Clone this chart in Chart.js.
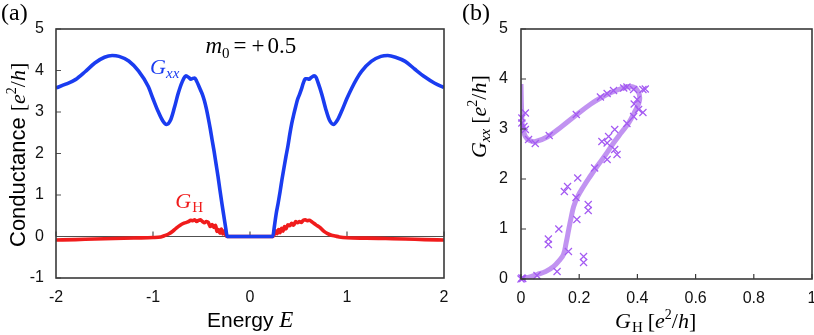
<!DOCTYPE html>
<html><head><meta charset="utf-8">
<script src="https://cdn.jsdelivr.net/npm/chart.js@4/dist/chart.umd.min.js"></script>
<style>
html,body{margin:0;padding:0;background:#fff;overflow:hidden;width:814px;height:335px;}
#wa{position:absolute;left:0;top:0;width:460px;height:335px;}
#wb{position:absolute;left:460px;top:0;width:354px;height:335px;}
</style></head><body>
<div id="wa"><canvas id="ca" width="460" height="335"></canvas></div>
<div id="wb"><canvas id="cb" width="354" height="335"></canvas></div>
<script>
// ---------- Panel (a) data ----------
const energyXX = [-2.00,-1.90,-1.80,-1.70,-1.60,-1.50,-1.42,-1.35,-1.25,-1.15,-1.05,-1.00,-0.95,-0.90,-0.86,-0.82,-0.78,-0.74,-0.70,-0.66,-0.63,-0.61,-0.59,-0.57,-0.55,-0.53,-0.51,-0.49,-0.47,-0.45,-0.43,-0.41,-0.39,-0.37,-0.35,-0.33,-0.31,-0.29,-0.27,-0.25,-0.235,
  0.235,0.25,0.27,0.29,0.31,0.33,0.35,0.37,0.39,0.41,0.43,0.45,0.47,0.49,0.51,0.53,0.55,0.57,0.59,0.61,0.63,0.66,0.68,0.70,0.74,0.78,0.82,0.86,0.90,0.95,1.00,1.05,1.10,1.15,1.25,1.35,1.42,1.50,1.60,1.70,1.80,1.90,2.00];
const gxx = [3.58,3.67,3.78,3.97,4.18,4.32,4.36,4.34,4.23,3.99,3.62,3.32,3.03,2.79,2.70,2.80,3.10,3.45,3.72,3.87,3.83,3.79,3.81,3.82,3.74,3.64,3.53,3.42,3.27,3.08,2.85,2.60,2.32,2.05,1.75,1.45,1.12,0.80,0.50,0.20,0.00,
  0.00,0.22,0.55,0.80,1.08,1.38,1.65,1.92,2.17,2.46,2.72,2.93,3.12,3.30,3.42,3.55,3.70,3.80,3.80,3.79,3.83,3.87,3.84,3.72,3.43,3.08,2.80,2.70,2.80,3.05,3.33,3.58,3.80,3.98,4.22,4.34,4.36,4.32,4.22,4.03,3.85,3.70,3.59];
const energyH = [-2.00,-1.80,-1.60,-1.40,-1.20,-1.00,-0.92,-0.88,-0.84,-0.80,-0.76,-0.72,-0.68,-0.64,-0.61,-0.59,-0.57,-0.55,-0.53,-0.51,-0.49,-0.47,-0.45,-0.43,-0.41,-0.39,-0.37,-0.355,-0.34,-0.325,-0.31,-0.295,-0.28,-0.265,-0.25,-0.235,
  0.235,0.25,0.265,0.28,0.295,0.31,0.325,0.34,0.355,0.37,0.39,0.41,0.43,0.45,0.47,0.49,0.51,0.53,0.55,0.57,0.59,0.61,0.64,0.68,0.72,0.76,0.80,0.84,0.88,0.92,1.00,1.20,1.40,1.60,1.80,2.00];
const gh = [-0.085,-0.075,-0.06,-0.05,-0.035,-0.025,-0.01,0.02,0.06,0.12,0.20,0.27,0.32,0.35,0.39,0.38,0.40,0.36,0.39,0.40,0.36,0.33,0.36,0.34,0.24,0.29,0.22,0.27,0.12,0.17,0.08,0.18,0.06,0.14,0.04,0.00,
  0.00,0.05,0.14,0.07,0.17,0.09,0.20,0.13,0.24,0.18,0.28,0.26,0.32,0.27,0.36,0.33,0.36,0.34,0.39,0.40,0.38,0.39,0.35,0.28,0.22,0.13,0.07,0.03,0.01,-0.01,-0.03,-0.04,-0.05,-0.06,-0.075,-0.085];
const xTicksA = [-2,-1,0,1,2];
const yTicksA = [-1,0,1,2,3,4,5];

// ---------- Panel (b) data ----------
const bLineGH  = [0.000,0.002,0.005,0.015,0.030,0.050,0.090,0.140,0.192,0.240,0.273,0.310,0.345,0.370,0.390,0.403,0.408,0.404,0.395,0.370,0.345,0.318,0.290,0.261,0.235,0.215,0.195,0.181,0.172,0.164,0.155,0.146,0.130,0.112,0.085,0.055,0.025,0.000];
const bLineGxx = [3.90,3.40,3.05,2.85,2.77,2.75,2.84,3.05,3.29,3.50,3.62,3.73,3.81,3.85,3.83,3.75,3.62,3.50,3.39,3.12,2.93,2.72,2.48,2.25,2.03,1.85,1.65,1.45,1.22,0.99,0.72,0.49,0.36,0.25,0.15,0.09,0.03,0.00];
const bMarkGH  = [0.000,0.003,0.006,0.055,0.124,0.130,0.094,0.094,0.163,0.215,0.215,0.192,0.189,0.149,0.160,0.195,0.231,0.231,0.253,0.296,0.322,0.330,0.278,0.296,0.301,0.322,0.364,0.387,0.404,0.419,0.389,0.399,0.419,0.427,0.387,0.364,0.353,0.318,0.296,0.273,0.190,0.097,0.049,0.026,0.015,0.003,0.003,0.015,0.010];
const bMarkGxx = [0.00,0.02,0.01,0.07,0.15,1.00,0.80,0.69,0.55,0.45,0.33,1.19,1.63,1.75,1.85,2.02,1.49,1.37,2.22,2.39,2.59,2.49,2.75,2.72,2.85,2.99,3.11,3.25,3.39,3.33,3.50,3.59,3.79,3.80,3.79,3.84,3.82,3.77,3.71,3.64,3.29,2.87,2.71,2.79,2.99,3.12,3.22,3.32,3.05];
const xTicksB = [0,0.2,0.4,0.6,0.8,1];
const xTickLabelsB = ['0','0.2','0.4','0.6','0.8','1'];
const yTicksB = [0,1,2,3,4,5];

// ---------- style ----------
const SERIF = '"Liberation Serif","Times New Roman",serif';
const SANS = '"Liberation Sans",Arial,Helvetica,sans-serif';
const BLUE = '#1a3cf0';
const RED = '#f01c1c';
const FRAME = '#3a3a3a';

function rich(ctx, x, y, parts, rot) {
  ctx.save();
  ctx.translate(x, y);
  if (rot) ctx.rotate(rot);
  ctx.textAlign = 'left';
  ctx.textBaseline = 'alphabetic';
  let cx = 0;
  for (const p of parts) {
    ctx.font = p.f;
    ctx.fillStyle = p.c || '#000';
    ctx.fillText(p.t, cx, p.dy || 0);
    cx += ctx.measureText(p.t).width + (p.sp || 0);
  }
  ctx.restore();
}
const pairs = (xs, ys) => xs.map((v, i) => ({x: v, y: ys[i]}));
const noPad = s => { s.paddingLeft = 0; s.paddingRight = 0; };

// ---------- Panel (a) ----------
const plugA = {
  id: 'plugA',
  beforeDatasetsDraw(chart) {
    const {ctx, chartArea: a, scales: {x, y}} = chart;
    ctx.save();
    ctx.strokeStyle = '#505050';
    ctx.lineWidth = 1.2;
    const y0 = y.getPixelForValue(0);
    ctx.beginPath();
    ctx.moveTo(a.left, y0); ctx.lineTo(a.right, y0);
    xTicksA.forEach(v => { const px = x.getPixelForValue(v); ctx.moveTo(px, y0); ctx.lineTo(px, y0 - 5); });
    yTicksA.forEach(v => { const py = y.getPixelForValue(v); ctx.moveTo(a.left, py); ctx.lineTo(a.left + 5, py); });
    ctx.stroke();
    ctx.restore();
  },
  afterDraw(chart) {
    const {ctx, chartArea: a, scales: {x, y}} = chart;
    ctx.save();
    ctx.strokeStyle = FRAME; ctx.lineWidth = 1.6;
    ctx.strokeRect(a.left, a.top, a.right - a.left, a.bottom - a.top);
    ctx.restore();
    rich(ctx, 1, 20, [{t: '(a)', f: '24px ' + SERIF}]);
    rich(ctx, x.getPixelForValue(-0.46), y.getPixelForValue(4.42), [
      {t: 'm', f: 'italic 23px ' + SERIF},
      {t: '0', f: '15px ' + SERIF, dy: 5, sp: 4},
      {t: '=', f: '23px ' + SERIF, sp: 5},
      {t: '+', f: '23px ' + SERIF, sp: 3},
      {t: '0.5', f: '23px ' + SERIF}
    ]);
    rich(ctx, x.getPixelForValue(-1.03), y.getPixelForValue(3.92), [
      {t: 'G', f: 'italic 22px ' + SERIF, c: BLUE},
      {t: 'xx', f: 'italic 15px ' + SERIF, c: BLUE, dy: 4}
    ]);
    rich(ctx, x.getPixelForValue(-0.77), y.getPixelForValue(0.69), [
      {t: 'G', f: 'italic 22px ' + SERIF, c: RED, sp: 1},
      {t: 'H', f: '15px ' + SERIF, c: RED, dy: 4}
    ]);
    rich(ctx, 25, 247, [
      {t: 'Conductance ', f: '22px ' + SANS},
      {t: '[', f: '22px ' + SERIF},
      {t: 'e', f: 'italic 22px ' + SERIF},
      {t: '2', f: '14px ' + SERIF, dy: -9},
      {t: '/', f: '22px ' + SERIF},
      {t: 'h', f: 'italic 22px ' + SERIF},
      {t: ']', f: '22px ' + SERIF}
    ], -Math.PI / 2);
    rich(ctx, 207, 327, [
      {t: 'Energy ', f: '21px ' + SANS},
      {t: 'E', f: 'italic 23px ' + SERIF}
    ]);
  }
};

new Chart(document.getElementById('ca'), {
  type: 'scatter',
  data: {
    datasets: [
      {data: pairs(energyXX, gxx), showLine: true, borderColor: BLUE, borderWidth: 3.6, pointRadius: 0, cubicInterpolationMode: 'monotone', order: 0},
      {data: pairs(energyH, gh), showLine: true, borderColor: RED, borderWidth: 3.6, pointRadius: 0, cubicInterpolationMode: 'monotone', order: 1}
    ]
  },
  options: {
    responsive: false, animation: false, devicePixelRatio: 1,
    layout: {padding: {left: 0, right: 16, top: 29, bottom: 0}, autoPadding: false},
    plugins: {legend: {display: false}, tooltip: {enabled: false}},
    scales: {
      x: {
        type: 'linear', min: -2, max: 2,
        afterBuildTicks: s => { s.ticks = xTicksA.map(v => ({value: v})); },
        ticks: {font: {family: SANS, size: 16}, color: '#111', padding: 10, maxRotation: 0},
        grid: {display: false, drawTicks: false}, border: {display: false},
        afterFit: s => { s.height = 57; noPad(s); }
      },
      y: {
        type: 'linear', min: -1, max: 5,
        afterBuildTicks: s => { s.ticks = yTicksA.map(v => ({value: v})); },
        ticks: {font: {family: SANS, size: 16}, color: '#111', padding: 12},
        grid: {display: false, drawTicks: false}, border: {display: false},
        afterFit: s => { s.width = 56; s.paddingTop = 0; s.paddingBottom = 0; }
      }
    }
  },
  plugins: [plugA]
});

// ---------- Panel (b) ----------
const plugB = {
  id: 'plugB',
  afterDraw(chart) {
    const {ctx, chartArea: a, scales: {x, y}} = chart;
    ctx.save();
    ctx.strokeStyle = FRAME; ctx.lineWidth = 1.6;
    ctx.strokeRect(a.left, a.top, a.right - a.left, a.bottom - a.top);
    ctx.lineWidth = 1.2;
    ctx.beginPath();
    xTicksB.forEach(v => { const px = x.getPixelForValue(v); ctx.moveTo(px, a.bottom); ctx.lineTo(px, a.bottom - 5); });
    yTicksB.forEach(v => { const py = y.getPixelForValue(v); ctx.moveTo(a.left, py); ctx.lineTo(a.left + 5, py); });
    ctx.stroke();
    ctx.restore();
    rich(ctx, 2, 20, [{t: '(b)', f: '24px ' + SERIF}]);
    rich(ctx, 26, 158, [
      {t: 'G', f: 'italic 22px ' + SERIF},
      {t: 'xx', f: 'italic 15px ' + SERIF, dy: 4, sp: 5},
      {t: '[', f: '22px ' + SERIF},
      {t: 'e', f: 'italic 22px ' + SERIF},
      {t: '2', f: '14px ' + SERIF, dy: -9},
      {t: '/', f: '22px ' + SERIF},
      {t: 'h', f: 'italic 22px ' + SERIF},
      {t: ']', f: '22px ' + SERIF}
    ], -Math.PI / 2);
    rich(ctx, 155, 328, [
      {t: 'G', f: 'italic 22px ' + SERIF, sp: 1},
      {t: 'H', f: '15px ' + SERIF, dy: 4, sp: 5},
      {t: '[', f: '22px ' + SERIF},
      {t: 'e', f: 'italic 22px ' + SERIF},
      {t: '2', f: '14px ' + SERIF, dy: -9},
      {t: '/', f: '22px ' + SERIF},
      {t: 'h', f: 'italic 22px ' + SERIF},
      {t: ']', f: '22px ' + SERIF}
    ]);
  }
};

new Chart(document.getElementById('cb'), {
  type: 'scatter',
  data: {
    datasets: [
      {data: pairs(bMarkGH, bMarkGxx), showLine: false, pointStyle: 'crossRot', pointRadius: 5, borderWidth: 1.2, borderColor: '#a45af2', backgroundColor: '#a45af2', clip: false, order: 0},
      {data: pairs(bLineGH, bLineGxx), showLine: true, borderColor: 'rgba(178,120,238,0.8)', borderWidth: 5, pointRadius: 0, tension: 0.4, clip: 0, order: 1}
    ]
  },
  options: {
    responsive: false, animation: false, devicePixelRatio: 1,
    layout: {padding: {left: 0, right: 2, top: 29, bottom: 0}, autoPadding: false},
    plugins: {legend: {display: false}, tooltip: {enabled: false}},
    scales: {
      x: {
        type: 'linear', min: 0, max: 1,
        afterBuildTicks: s => { s.ticks = xTicksB.map(v => ({value: v})); },
        ticks: {font: {family: SANS, size: 16}, color: '#111', padding: 10, maxRotation: 0,
                callback: (v, i) => xTickLabelsB[i]},
        grid: {display: false, drawTicks: false}, border: {display: false},
        afterFit: s => { s.height = 56; noPad(s); }
      },
      y: {
        type: 'linear', min: 0, max: 5,
        afterBuildTicks: s => { s.ticks = yTicksB.map(v => ({value: v})); },
        ticks: {font: {family: SANS, size: 16}, color: '#111', padding: 13},
        grid: {display: false, drawTicks: false}, border: {display: false},
        afterFit: s => { s.width = 61; s.paddingTop = 0; s.paddingBottom = 0; }
      }
    }
  },
  plugins: [plugB]
});
</script></body></html>
